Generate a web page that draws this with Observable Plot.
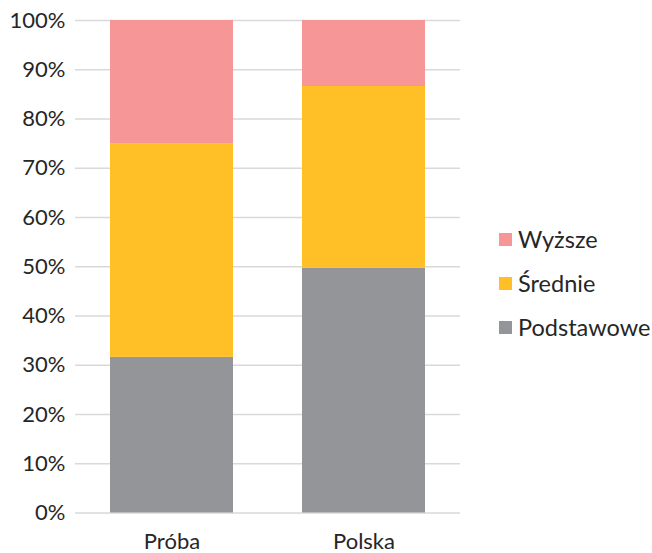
<!DOCTYPE html>
<html>
<head>
<meta charset="utf-8">
<script src="https://cdn.jsdelivr.net/npm/d3@7"></script>
<script src="https://cdn.jsdelivr.net/npm/@observablehq/plot@0.6"></script>
<style>
  html, body { margin: 0; padding: 0; background: #fff; }
  #wrap { position: relative; width: 652px; height: 553px; font-family: Lato, "Open Sans", sans-serif; }
  #legend { position: absolute; left: 499px; top: 217px; color: #262626; font-size: 23.5px; }
  .row { display: flex; align-items: center; height: 44px; }
  .sw { width: 13px; height: 13px; margin-right: 6px; }
</style>
</head>
<body>
<div id="wrap"></div>
<script>
const categories = ["Próba", "Polska"];
const levels = ["Podstawowe", "Średnie", "Wyższe"];
const podstawowe = [31.6, 49.7];
const srednie = [43.4, 36.9];
const wyzsze = [25.0, 13.4];
const colors = ["#939598", "#FEBF27", "#F69697"];
const yTicks = [0, 10, 20, 30, 40, 50, 60, 70, 80, 90, 100];

const series = [podstawowe, srednie, wyzsze];
const data = [];
categories.forEach((c, i) => levels.forEach((l, j) => data.push({category: c, level: l, value: series[j][i]})));

const chart = Plot.plot({
  width: 652,
  height: 553,
  marginLeft: 75,
  marginRight: 192,
  marginTop: 20,
  marginBottom: 40.5,
  style: {fontFamily: "Lato, 'Open Sans', sans-serif", fontSize: "22px", color: "#262626", background: "#fff"},
  x: {domain: categories, paddingInner: 0.36, paddingOuter: 0.18, label: null, tickSize: 0, tickPadding: 20},
  y: {domain: [0, 100], ticks: yTicks, tickFormat: d => d + "%", label: null, tickSize: 0, tickPadding: 10},
  color: {domain: levels, range: colors},
  marks: [
    Plot.ruleY(yTicks, {stroke: "#d9d9d9", strokeWidth: 1.5}),
    Plot.barY(data, Plot.stackY({order: levels, x: "category", y: "value", fill: "level"})),
    Plot.axisY({ticks: yTicks, tickFormat: d => d + "%", tickSize: 0, tickPadding: 10, label: null}),
    Plot.axisX({tickSize: 0, tickPadding: 20, label: null})
  ]
});
const wrap = document.getElementById("wrap");
wrap.appendChild(chart);

const legend = document.createElement("div");
legend.id = "legend";
[...levels].reverse().forEach(l => {
  const row = document.createElement("div");
  row.className = "row";
  const sw = document.createElement("div");
  sw.className = "sw";
  sw.style.background = colors[levels.indexOf(l)];
  const t = document.createElement("span");
  t.textContent = l;
  row.appendChild(sw);
  row.appendChild(t);
  legend.appendChild(row);
});
wrap.appendChild(legend);
</script>
</body>
</html>
